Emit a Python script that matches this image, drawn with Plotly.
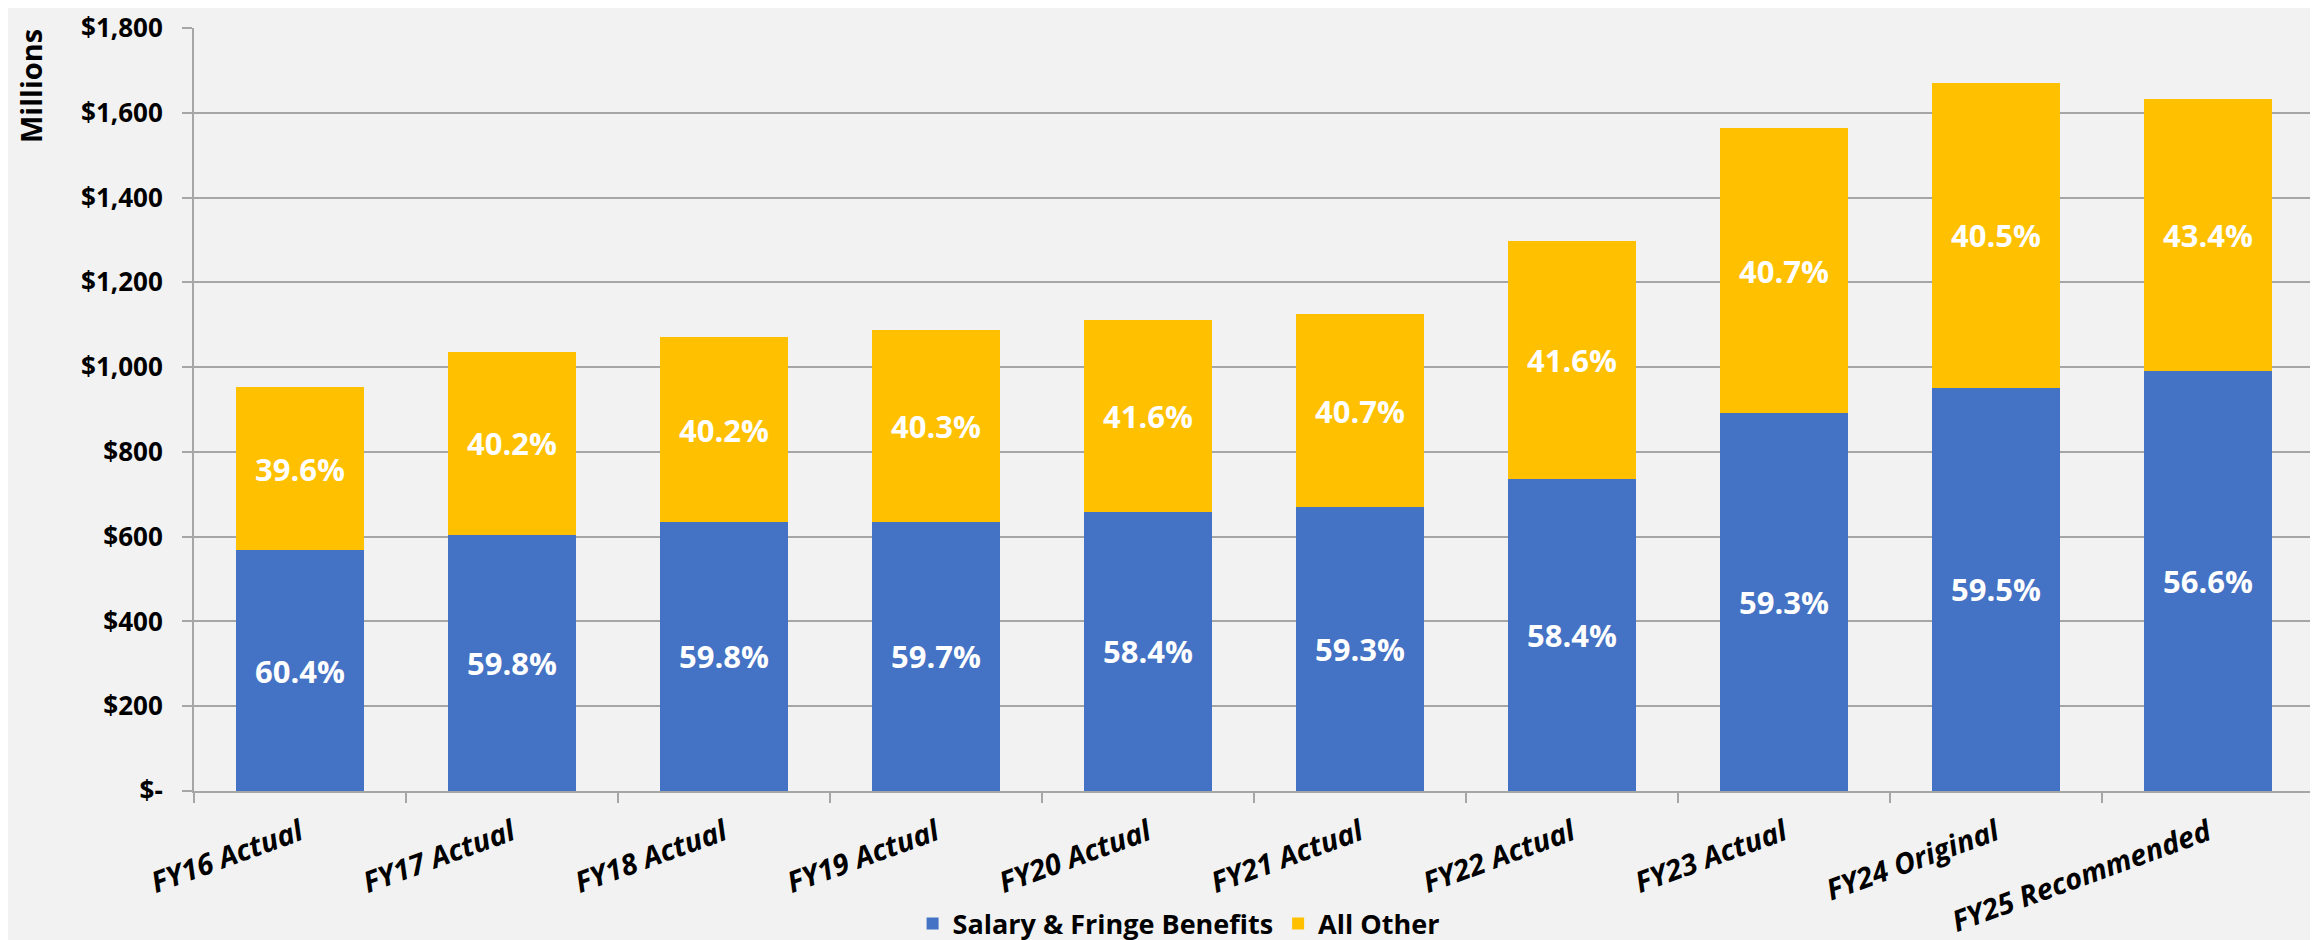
import plotly.graph_objects as go

categories = ["FY16 Actual", "FY17 Actual", "FY18 Actual", "FY19 Actual", "FY20 Actual",
              "FY21 Actual", "FY22 Actual", "FY23 Actual", "FY24 Original", "FY25 Recommended"]
salary = [568, 604, 635, 635, 659, 669, 735, 892, 951, 991]
total = [953, 1036, 1070, 1088, 1111, 1125, 1297, 1563, 1670, 1633]
other = [t - s for t, s in zip(total, salary)]
salary_pct = ["60.4%", "59.8%", "59.8%", "59.7%", "58.4%", "59.3%", "58.4%", "59.3%", "59.5%", "56.6%"]
other_pct = ["39.6%", "40.2%", "40.2%", "40.3%", "41.6%", "40.7%", "41.6%", "40.7%", "40.5%", "43.4%"]
y_tickvals = [0, 200, 400, 600, 800, 1000, 1200, 1400, 1600, 1800]
y_ticktext = ["$-", "$200", "$400", "$600", "$800", "$1,000", "$1,200", "$1,400", "$1,600", "$1,800"]

FONT = "Open Sans"
BLUE = "#4472C4"
GOLD = "#FFC000"
GRID = "#A6A6A6"

fig = go.Figure()
fig.add_trace(go.Bar(
    x=categories, y=salary, name="Salary & Fringe Benefits",
    marker=dict(color=BLUE, line=dict(width=0)),
    text=salary_pct, textposition="inside", insidetextanchor="middle", textangle=0,
    textfont=dict(family=FONT, size=31, color="white", weight="bold"),
    hoverinfo="skip",
))
fig.add_trace(go.Bar(
    x=categories, y=other, name="All Other",
    marker=dict(color=GOLD, line=dict(width=0)),
    text=other_pct, textposition="inside", insidetextanchor="middle", textangle=0,
    textfont=dict(family=FONT, size=31, color="white", weight="bold"),
    hoverinfo="skip",
))

fig.update_layout(
    barmode="stack",
    bargap=0.396,
    width=2318, height=940,
    paper_bgcolor="#F2F2F2", plot_bgcolor="#F2F2F2",
    margin=dict(l=186, r=12, t=20, b=157, autoexpand=False),
    font=dict(family=FONT, color="black"),
    legend=dict(
        orientation="h", xref="container", yref="container",
        x=0.505, xanchor="center", y=(940 - 916) / 940, yanchor="middle",
        font=dict(family=FONT, size=27, color="black", weight="bold"),
        bgcolor="rgba(0,0,0,0)", traceorder="normal",
    ),
    xaxis=dict(
        type="category", showgrid=False, showline=True, linecolor=GRID, linewidth=2,
        ticks="outside", tickson="boundaries", ticklen=10, tickcolor=GRID, tickwidth=2,
        tickangle=-20, automargin=False, ticklabelstandoff=12,
        tickfont=dict(family=FONT, size=29, color="black", weight="bold", style="italic"),
    ),
    yaxis=dict(
        range=[0, 1800], tickvals=y_tickvals, ticktext=y_ticktext,
        showgrid=True, gridcolor=GRID, gridwidth=2,
        showline=True, linecolor=GRID, linewidth=2,
        ticks="outside", ticklen=10, tickcolor=GRID, tickwidth=2,
        ticklabelstandoff=14, automargin=False,
        tickfont=dict(family=FONT, size=26, color="black", weight="bold"),
        zeroline=False,
    ),
)

fig.add_annotation(
    text="Millions", xref="paper", yref="paper",
    x=(22 - 186) / 2120, y=1.0 - 58 / 763, xanchor="center", yanchor="middle",
    textangle=-90, showarrow=False,
    font=dict(family=FONT, size=29, color="black", weight="bold"),
)

fig.write_html("out.html")
